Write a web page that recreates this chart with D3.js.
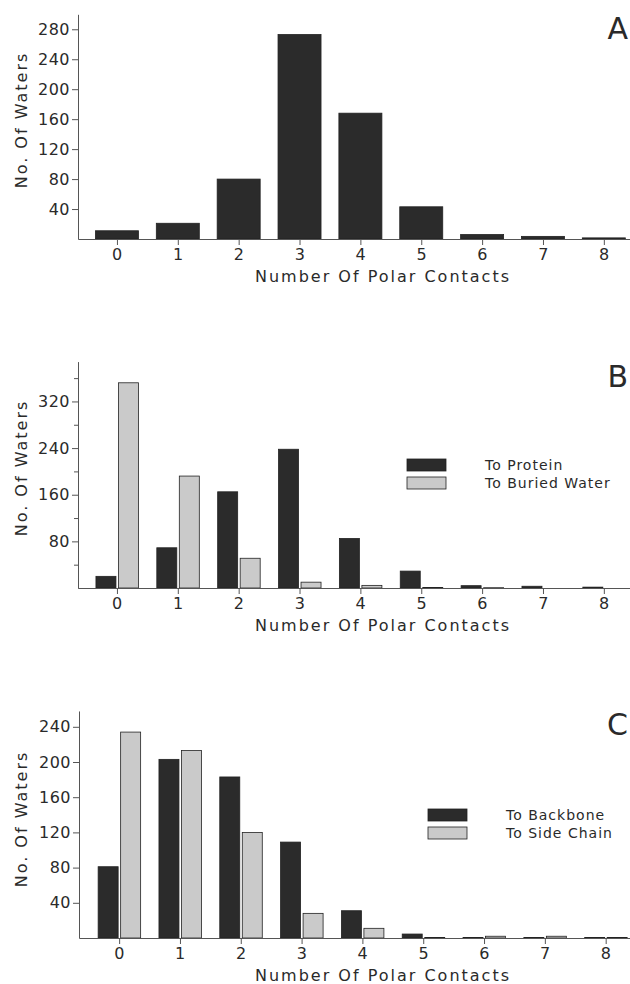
<!DOCTYPE html>
<html>
<head>
  <meta charset="utf-8">
  <script src="https://cdn.jsdelivr.net/npm/d3@7"></script>
  <style>
    body { margin: 0; background: #fff; }
    text { font-family: "DejaVu Sans", sans-serif; fill: #2a2a2a; }
    .axis path, .axis line { stroke: #555; stroke-width: 1; }
    .axis text { font-size: 16px; letter-spacing: 0.5px; }
  </style>
</head>
<body>
  <svg id="chart" width="630" height="984"></svg>
  <script>
    // data
    var contacts = [0, 1, 2, 3, 4, 5, 6, 7, 8];
    var watersA = [11, 21, 80, 273, 168, 43, 6, 3.5, 1.5];
    var toProtein = [20, 69, 165, 238, 85, 29, 4, 3, 1.5];
    var toBuriedWater = [352, 192, 51, 10, 4.5, 1, 0.5, 0, 0];
    var toBackbone = [81, 203, 183, 109, 31, 4.5, 0.5, 0.5, 0.5];
    var toSideChain = [234, 213, 120, 28, 11, 0.5, 2, 2, 0.5];
    var ticksA = [40, 80, 120, 160, 200, 240, 280];
    var ticksB = [80, 160, 240, 320];
    var minorB = [40, 120, 200, 280, 360];
    var ticksC = [40, 80, 120, 160, 200, 240];

    var svg = d3.select("#chart");

    // dark and light bar colours
    var dark = "#2b2b2b", light = "#cacaca";

    function drawPanel(p) {
      var g = svg.append("g");

      var x = d3.scaleLinear().domain([p.x0, p.x1]).range([p.left, 630]);
      var y = d3.scaleLinear().domain([0, p.ymax]).range([p.base, p.base - p.ymax * p.k]);

      // bars
      p.series.forEach(function(s) {
        g.selectAll(null)
          .data(s.values)
          .enter()
          .append("rect")
          .attr("x", function(d, i) { return x(contacts[i]) + s.off; })
          .attr("width", s.w)
          .attr("y", function(d) { return y(d); })
          .attr("height", function(d) { return p.base - y(d); })
          .attr("fill", s.color)
          .attr("stroke", "#222")
          .attr("stroke-width", d => d > 0 ? 0.8 : 0);
      });

      // x axis
      g.append("g")
        .attr("class", "axis")
        .attr("transform", "translate(0," + p.base + ")")
        .call(d3.axisBottom(x).tickValues(contacts).tickSize(6).tickSizeOuter(0).tickPadding(4));

      // y axis
      g.append("g")
        .attr("class", "axis")
        .attr("transform", "translate(" + p.left + ",0)")
        .call(d3.axisLeft(y).tickValues(p.ticks).tickSize(6).tickSizeOuter(0).tickPadding(2));
      if (p.minor) {
        g.append("g")
          .attr("class", "axis")
          .attr("transform", "translate(" + p.left + ",0)")
          .call(d3.axisLeft(y).tickValues(p.minor).tickSize(4).tickFormat("").tickSizeOuter(0));
      }

      // axis titles
      g.append("text")
        .attr("transform", "translate(27," + p.ylabelY + ") rotate(-90)")
        .attr("text-anchor", "middle")
        .style("font-size", "16px")
        .style("letter-spacing", "2px")
        .text("No. Of Waters");

      g.append("text")
        .attr("x", 383)
        .attr("y", p.base + 43)
        .attr("text-anchor", "middle")
        .style("font-size", "16px")
        .style("letter-spacing", "2px")
        .text("Number Of Polar Contacts");

      // panel letter (cut at the edge in the original; kept inside here)
      g.append("text")
        .attr("x", 628)
        .attr("y", p.letterY)
        .attr("text-anchor", "end")
        .style("font-size", "30px")
        .text(p.letter);

      // legend
      if (p.legend) {
        p.legend.forEach(function(l, i) {
          g.append("rect")
            .attr("x", p.legX)
            .attr("y", p.legY + i * 18)
            .attr("width", 39)
            .attr("height", 12)
            .attr("fill", l.color)
            .attr("stroke", "#222")
            .attr("stroke-width", 0.8);
          g.append("text")
            .attr("x", p.legX + 78)
            .attr("y", p.legY + i * 18 + 11)
            .style("font-size", "14px")
            .style("letter-spacing", "1px")
            .text(l.name);
        });
      }
    }

    drawPanel({
      letter: "A", letterY: 39,
      left: 78, x0: -0.64, x1: 8.43,
      base: 239, k: 0.749, ymax: 300, ticks: ticksA,
      ylabelY: 120,
      series: [{ values: watersA, color: dark, off: -21.5, w: 43 }]
    });

    drawPanel({
      letter: "B", letterY: 387,
      left: 78, x0: -0.64, x1: 8.43,
      base: 588, k: 0.583, ymax: 388, ticks: ticksB, minor: minorB,
      ylabelY: 468,
      series: [
        { values: toProtein, color: dark, off: -21, w: 20 },
        { values: toBuriedWater, color: light, off: 1.5, w: 20 }
      ],
      legX: 407, legY: 459,
      legend: [{ name: "To Protein", color: dark }, { name: "To Buried Water", color: light }]
    });

    drawPanel({
      letter: "C", letterY: 735,
      left: 79, x0: -0.66, x1: 8.4,
      base: 938, k: 0.88, ymax: 258, ticks: ticksC,
      ylabelY: 819,
      series: [
        { values: toBackbone, color: dark, off: -21, w: 20 },
        { values: toSideChain, color: light, off: 1.5, w: 20 }
      ],
      legX: 428, legY: 809,
      legend: [{ name: "To Backbone", color: dark }, { name: "To Side Chain", color: light }]
    });
  </script>
</body>
</html>
